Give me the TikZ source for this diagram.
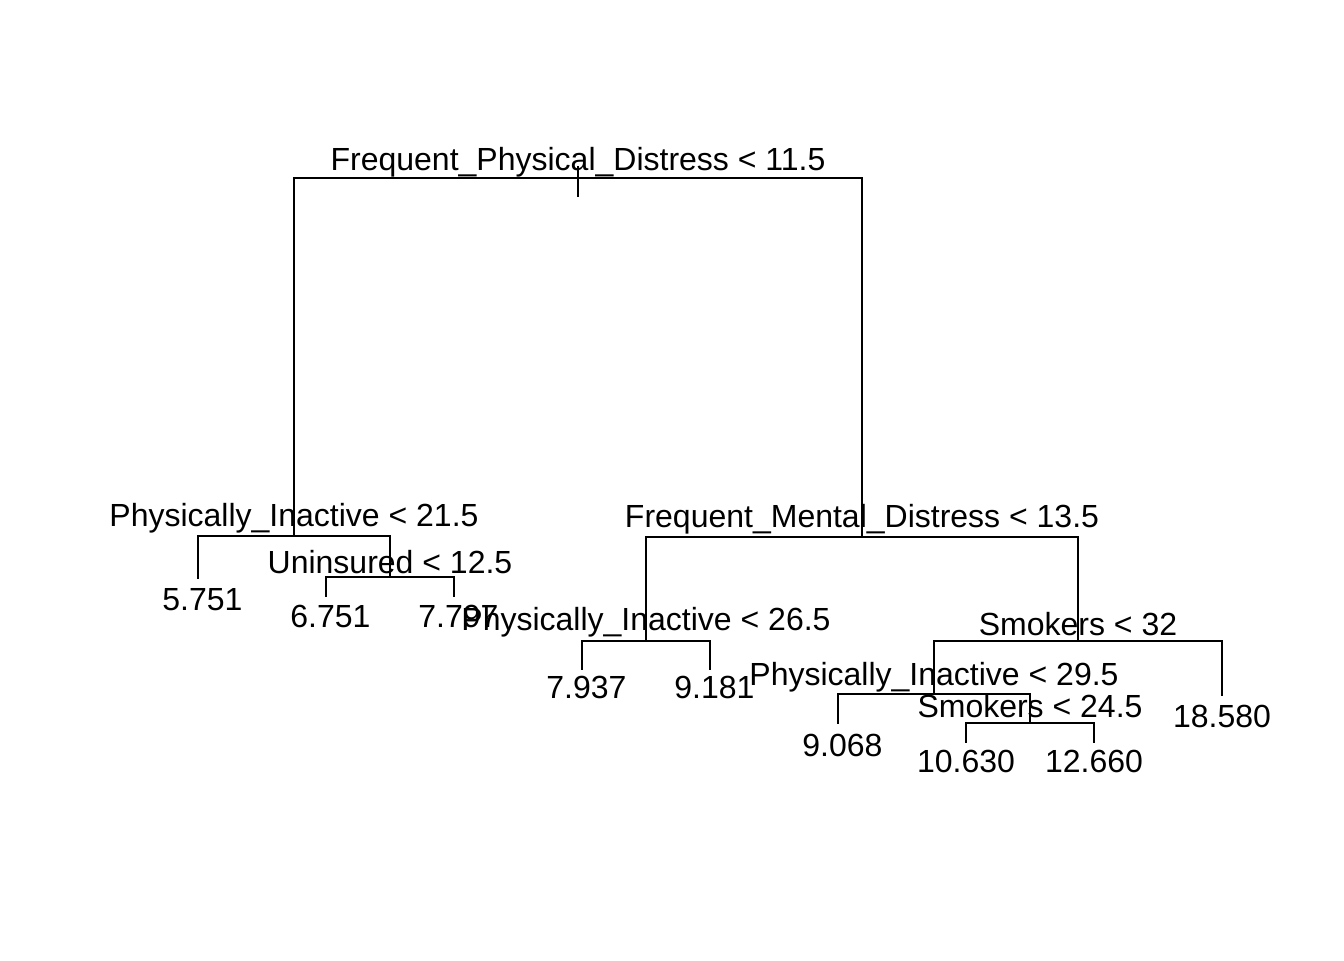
\documentclass[tikz,border=0pt]{standalone}
\usepackage{fontspec}
\setmainfont{Liberation Sans}
\usepackage{tikz}
\usetikzlibrary{positioning}

\begin{document}
\begin{tikzpicture}[
			x=0.375pt,y=-0.375pt,
			every node/.style={font=\fontsize{12}{14.4}\selectfont,inner sep=0pt,anchor=base},
			split/.style={yshift=-0.75pt},
			leaf/.style={yshift=-0.75pt},
			link/.style={line width=0.75pt,line cap=rect}
			]
			\useasboundingbox (0,0) rectangle (1344,960);
			\coordinate (top) at (578,166.7);
			\coordinate (tick) at (578,195.7);
			\coordinate (root) at (578,178.3);
			\coordinate (l) at (294,536);
			\coordinate (r) at (862,537);
			\coordinate (ll) at (198,578);
			\coordinate (lr) at (390,577.3);
			\coordinate (lrl) at (326,596);
			\coordinate (lrr) at (454,596);
			\coordinate (rl) at (646,641);
			\coordinate (rr) at (1078,641);
			\coordinate (rll) at (582,669);
			\coordinate (rlr) at (710,669);
			\coordinate (rrl) at (934,694);
			\coordinate (rrr) at (1222,694.5);
			\coordinate (rrll) at (838,723);
			\coordinate (rrlr) at (1030,723);
			\coordinate (rrlrl) at (966,741.5);
			\coordinate (rrlrr) at (1094,741.5);
			\draw[link] (top)--(tick);
			\draw[link] (l) |- (root) -| (r);
			\draw[link] (ll) |- (l) -| (lr);
			\draw[link] (lrl) |- (lr) -| (lrr);
			\draw[link] (rl) |- (r) -| (rr);
			\draw[link] (rll) |- (rl) -| (rlr);
			\draw[link] (rrl) |- (rr) -| (rrr);
			\draw[link] (rrll) |- (rrl) -| (rrlr);
			\draw[link] (rrlrl) |- (rrlr) -| (rrlrr);
			\node[split] (root-lab) at (578,168.3) {Frequent\_Physical\_Distress < 11.5};
			\node[split] (l-lab) at (294,524.3) {Physically\_Inactive < 21.5};
			\node[split] (lr-lab) at (390,571) {Uninsured < 12.5};
			\node[split] (r-lab) at (862,525) {Frequent\_Mental\_Distress < 13.5};
			\node[split] (rl-lab) at (646,628.3) {Physically\_Inactive < 26.5};
			\node[split] (rr-lab) at (1078,633.3) {Smokers < 32};
			\node[split] (rrl-lab) at (934,683.3) {Physically\_Inactive < 29.5};
			\node[split] (rrlr-lab) at (1030,715) {Smokers < 24.5};
			\node[leaf] (ll-lab) at (198,608.3) {\ 5.751};
			\node[leaf] (lrl-lab) at (326,625) {\ 6.751};
			\node[leaf] (lrr-lab) at (454,625) {\ 7.797};
			\node[leaf] (rll-lab) at (582,696.7) {\ 7.937};
			\node[leaf] (rlr-lab) at (710,696.7) {\ 9.181};
			\node[leaf] (rrll-lab) at (838,754) {\ 9.068};
			\node[leaf] (rrlrl-lab) at (966,770) {10.630};
			\node[leaf] (rrlrr-lab) at (1094,770) {12.660};
			\node[leaf] (rrr-lab) at (1222,725) {18.580};
		\end{tikzpicture}
\end{document}
